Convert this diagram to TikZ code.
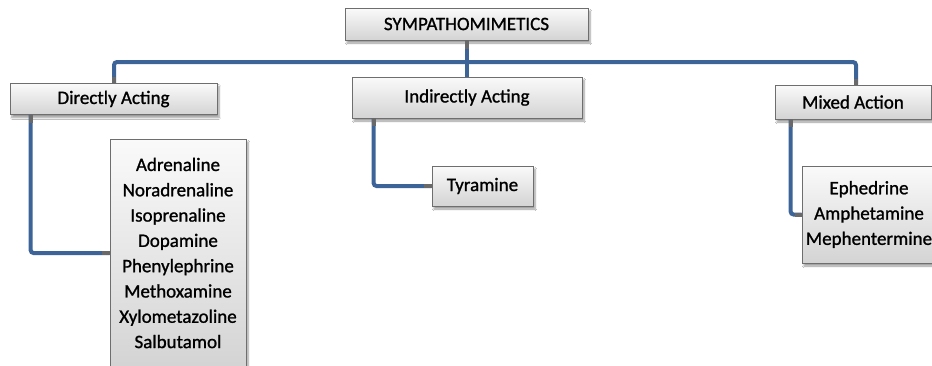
\documentclass[tikz,border=0pt]{standalone}
\usepackage{fontspec}
\setmainfont{Carlito}
\newfontfamily\boxfont{Carlito}[FakeBold=1.1]
\usetikzlibrary{shadows.blur,calc}
\definecolor{linkblue}{RGB}{60,100,152}
\definecolor{stubgray}{RGB}{105,105,105}
\definecolor{boxedge}{RGB}{110,110,110}
\tikzset{
  box/.style={rectangle, draw=boxedge, line width=0.8pt,
    top color=gray!4, bottom color=gray!34,
    blur shadow={shadow xshift=2pt, shadow yshift=-3pt, shadow blur steps=6, shadow opacity=40},
    align=center, inner sep=0pt, font=\boxfont\fontsize{19}{25.3}\selectfont},
  link/.style={draw=linkblue, line width=4pt, rounded corners=3pt},
  stub/.style={draw=stubgray, line width=4pt},
}
\begin{document}
\begin{tikzpicture}[x=1pt,y=-1pt]
\path[use as bounding box, clip] (0,0) rectangle (932,365);
\fill[white] (0,0) rectangle (932,365);

% boxes
\node[box, minimum width=243pt, minimum height=32pt] (root) at (466.5,24) {SYMPATHOMIMETICS};
\node[box, minimum width=207pt, minimum height=31pt] (direct) at (113.5,99) {Directly Acting};
\node[box, minimum width=230pt, minimum height=41pt] (indirect) at (467,97.5) {Indirectly Acting};
\node[box, minimum width=156pt, minimum height=34pt] (mixed) at (853,102) {Mixed Action};
\node[box, minimum width=136pt, minimum height=228pt] (dlist) at (178,253)
  {Adrenaline\\Noradrenaline\\Isoprenaline\\Dopamine\\Phenylephrine\\Methoxamine\\Xylometazoline\\Salbutamol};
\node[box, minimum width=101pt, minimum height=40pt] (tyr) at (482.5,186) {Tyramine};
\node[box, minimum width=134pt, minimum height=97pt] (mlist) at (869,214.5)
  {Ephedrine\\Amphetamine\\Mephentermine};

% connectors
\coordinate (bar) at (0,62);
\draw[link] (root.south) -- (root.south |- indirect.north);
\draw[link] ([xshift=0.5pt]direct.north) -- ([xshift=0.5pt]direct.north |- bar)
  -- ([xshift=3pt]mixed.north |- bar) -- ([xshift=3pt]mixed.north);
\draw[link] ($(direct.south west)+(21,0)$) |- (dlist.west);
\draw[link] ($(indirect.south west)+(22,0)$) |- (tyr.west);
\draw[link] ($(mixed.south west)+(16,0)$) |- (mlist.west);

% grey stubs where connectors meet the boxes
\draw[stub] (root.south) -- ++(0,9);
\draw[stub] ([xshift=0.5pt]direct.north) -- ++(0,-6);
\draw[stub] ([xshift=3pt]mixed.north) -- ++(0,-6);
\draw[stub] ($(direct.south west)+(21,0)$) -- ++(0,8);
\draw[stub] (dlist.west) -- ++(-8,0);
\draw[stub] ($(indirect.south west)+(22,0)$) -- ++(0,8);
\draw[stub] (tyr.west) -- ++(-8,0);
\draw[stub] ($(mixed.south west)+(16,0)$) -- ++(0,8);
\draw[stub] (mlist.west) -- ++(-7,0);
\end{tikzpicture}
\end{document}
